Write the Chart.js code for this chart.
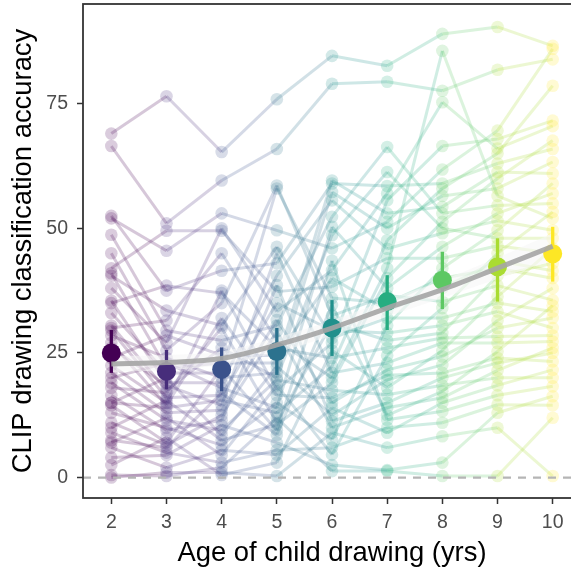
<!DOCTYPE html>
<html>
<head>
<meta charset="utf-8">
<script src="https://cdn.jsdelivr.net/npm/chart.js@4.4.0/dist/chart.umd.min.js"></script>
<style>
  html, body { margin: 0; padding: 0; background: #fff; overflow: hidden; }
</style>
</head>
<body>
<!-- the panel runs a little past the right edge of the window, as in the reference -->
<canvas id="chart" width="581" height="572"></canvas>
<script>
const ages = [2, 3, 4, 5, 6, 7, 8, 9, 10];
const ageColors = ['#440154', '#472D7B', '#3B528B', '#2C728E', '#21908C', '#27AD81', '#5DC863', '#AADC32', '#FDE725'];
const xTicks = [2, 3, 4, 5, 6, 7, 8, 9, 10];
const yTicks = [0, 25, 50, 75];

// accuracy of each drawing category at each age, highest first
const acc2 = [69, 66.5, 52.5, 52, 48.7, 45, 42, 41, 40.5, 38, 35.5, 35, 33, 30.5, 30, 29.5, 28.5, 27, 26, 24, 22.5, 21, 20, 19, 18, 16.5, 15, 15, 14.5, 13, 11, 10, 9, 7.5, 7, 6, 4, 2.5, 0.5, 0];
const acc3 = [76.5, 51, 49.5, 45.5, 38.5, 37.5, 33.5, 31.5, 29.5, 28.5, 27, 25.5, 24, 23, 22, 21, 20, 19, 18.5, 17.5, 17, 16, 15.5, 15, 14.5, 14, 13, 12, 11.5, 10, 9.5, 8, 7, 6.5, 6, 5, 4.5, 2, 1, 0.3];
const acc4 = [65.3, 59.6, 53, 50, 49.5, 45, 41.5, 37.5, 37, 35, 32, 30.5, 30, 27.5, 26, 24.5, 23, 22, 21, 20, 19, 18, 17, 16.5, 15.5, 14.5, 13.5, 12.5, 11.5, 10.5, 9.5, 8.5, 7.5, 6.5, 5.5, 4.5, 3, 2, 1, 0.5];
const acc5 = [75.9, 65.9, 58.6, 58, 49.6, 46.3, 45, 43, 40.5, 38.6, 37.3, 35, 33.3, 31.6, 30.5, 29.3, 27.5, 26, 24.5, 23, 22.3, 21, 20, 19.6, 18.5, 17.6, 16.5, 15, 14, 13, 12, 11, 10.6, 9.5, 8.6, 7, 5.5, 4.6, 3, 0.3];
const acc6 = [84.6, 79, 59.6, 59, 57.3, 55.6, 52.3, 50.3, 48.6, 46, 43.5, 41.6, 40, 38.3, 36, 34.6, 32.5, 31, 29.5, 28, 27, 25.5, 24, 22.3, 21, 20, 19, 17.5, 16, 15, 14, 12.5, 11.3, 10, 9, 7.6, 6, 4.6, 2.5, 1.3];
const acc7 = [82.6, 79.4, 66.3, 61.3, 58.5, 57, 55.6, 53, 51.3, 50, 47.6, 45.9, 44, 42, 40, 38, 36.5, 35, 33.5, 32, 30.5, 29, 27.5, 26, 24.5, 23, 21.6, 20.5, 19.6, 18, 16.6, 15, 14, 12.5, 11.6, 10, 9, 6, 1.5, 1.3];
const acc8 = [89, 85.6, 77.6, 75.3, 66.5, 61.8, 59, 58, 56.5, 54.3, 53, 51.3, 50, 49, 46.3, 44, 42, 40, 38, 35.3, 34, 32, 30.5, 29, 28, 27, 25.5, 24.3, 22.6, 21, 20, 18.5, 17.3, 16, 15, 13.3, 11, 8.3, 3, 0.3];
const acc9 = [90.4, 81.8, 69.6, 67.9, 66, 65, 63, 61.3, 60, 58, 56.5, 54.6, 53, 51.5, 49.6, 48, 46.5, 45, 43.5, 42, 40.5, 38.5, 36.3, 35, 33.3, 31.5, 30, 28.3, 27, 25.3, 24, 23, 21.5, 20, 18.5, 16.5, 14.6, 13, 10, 0.3];
const acc10 = [86.6, 86, 83.9, 78.6, 71.6, 70.5, 67.6, 65.9, 63.3, 61, 59, 57, 55, 53.3, 52, 49.6, 48, 46, 45, 43, 41.5, 40, 38, 35.6, 34.5, 33.3, 32, 30, 28.5, 27.3, 26, 25, 23.3, 21.6, 20, 18.3, 16.3, 14.5, 12, 0.3];

// which category holds each of those values (same order as the accN arrays)
const cats2 = [0, 1, 2, 3, 4, 5, 6, 7, 8, 9, 10, 11, 12, 13, 14, 15, 16, 17, 18, 19, 20, 21, 22, 23, 24, 25, 26, 27, 28, 29, 30, 31, 32, 33, 34, 35, 36, 37, 38, 39];
const cats3 = [0, 1, 6, 3, 11, 2, 8, 14, 4, 19, 9, 5, 16, 22, 7, 12, 27, 10, 18, 13, 24, 15, 31, 20, 17, 26, 21, 34, 23, 29, 25, 37, 28, 30, 33, 32, 36, 35, 39, 38];
const cats4 = [0, 1, 3, 9, 6, 14, 2, 20, 11, 5, 17, 8, 24, 4, 13, 19, 7, 28, 12, 16, 10, 22, 33, 15, 26, 18, 21, 30, 25, 36, 23, 27, 31, 29, 35, 34, 32, 38, 39, 37];
const cats5 = [0, 1, 5, 12, 3, 8, 18, 2, 10, 25, 6, 15, 9, 21, 4, 30, 14, 11, 19, 7, 27, 16, 13, 23, 34, 20, 17, 29, 22, 26, 38, 24, 31, 28, 33, 36, 32, 35, 37, 39];
const cats6 = [0, 1, 7, 2, 16, 10, 4, 22, 13, 3, 28, 9, 19, 6, 12, 33, 5, 24, 15, 8, 20, 37, 11, 26, 18, 14, 31, 23, 17, 21, 35, 27, 25, 30, 39, 29, 32, 34, 36, 38];
const cats7 = [0, 1, 4, 13, 2, 9, 20, 7, 3, 16, 26, 10, 6, 14, 31, 22, 5, 12, 19, 8, 29, 15, 24, 11, 34, 18, 21, 17, 27, 37, 23, 25, 30, 33, 28, 32, 35, 39, 36, 38];
const cats8 = [0, 14, 1, 9, 20, 3, 2, 26, 16, 7, 4, 31, 13, 10, 22, 6, 29, 12, 19, 5, 34, 8, 15, 24, 11, 18, 37, 21, 27, 17, 25, 23, 33, 30, 35, 28, 32, 39, 36, 38];
const cats9 = [0, 1, 3, 20, 9, 26, 2, 7, 31, 16, 14, 4, 22, 10, 29, 13, 6, 34, 19, 12, 24, 5, 37, 8, 15, 27, 21, 11, 18, 33, 17, 25, 30, 23, 35, 28, 32, 36, 39, 38];
const cats10 = [0, 3, 1, 26, 20, 9, 31, 2, 16, 7, 29, 22, 4, 34, 14, 10, 13, 37, 6, 24, 19, 12, 27, 5, 33, 8, 21, 15, 11, 18, 30, 25, 17, 35, 23, 28, 36, 32, 38, 39];

// mean per age with 95% CI, and the smooth fit
const meanAcc = [25.0, 21.3, 21.7, 25.3, 30.0, 35.3, 39.6, 42.3, 44.9];
const ciLow = [21.0, 17.7, 17.3, 20.6, 24.4, 29.6, 33.8, 35.3, 39.3];
const ciHigh = [29.6, 25.6, 26.1, 30.0, 35.6, 40.6, 45.3, 48.0, 50.3];
const smoothFit = [22.8, 23.1, 23.9, 26.6, 30.0, 34.0, 37.7, 42.0, 46.4];
const smoothLow = [21.2, 21.6, 22.6, 25.1, 28.5, 32.3, 36.0, 39.9, 43.6];
const smoothHigh = [24.4, 24.6, 25.3, 28.1, 31.5, 35.6, 39.6, 44.1, 49.0];

const X_MIN = 1.487, X_MAX = 10.513;

function fade(hex, a) {
  const n = parseInt(hex.slice(1), 16);
  return `rgba(${n >> 16}, ${(n >> 8) & 255}, ${n & 255}, ${a})`;
}
const colorOf = age => ageColors[ages.indexOf(age)];

const accByAge = [acc2, acc3, acc4, acc5, acc6, acc7, acc8, acc9, acc10];
const catsByAge = [cats2, cats3, cats4, cats5, cats6, cats7, cats8, cats9, cats10];

// one line per category
const catLines = [];
for (let c = 0; c < cats2.length; c++) {
  const pts = ages.map((a, i) => ({ x: a, y: accByAge[i][catsByAge[i].indexOf(c)] }));
  catLines.push({
    type: 'line',
    data: pts,
    order: 6,
    borderWidth: 3,
    pointRadius: 0,
    segment: { borderColor: ctx => fade(colorOf(ctx.p0.parsed.x), 0.22) }
  });
}

// all the small points in one layer above the lines
const smallPts = [];
const smallCols = [];
ages.forEach((a, i) => {
  accByAge[i].forEach(v => {
    smallPts.push({ x: a, y: v });
    smallCols.push(fade(ageColors[i], 0.2));
  });
});

const errBars = ages.map((a, i) => ({
  type: 'line',
  data: [{ x: a, y: ciLow[i] }, { x: a, y: ciHigh[i] }],
  order: 2,
  borderColor: ageColors[i],
  borderWidth: 3.3,
  pointRadius: 0
}));

const datasets = [
  {
    type: 'line', order: 0,
    data: ages.map((a, i) => ({ x: a, y: smoothFit[i] })),
    borderColor: 'rgba(165,165,165,0.9)', borderWidth: 5,
    pointRadius: 0, cubicInterpolationMode: 'monotone'
  },
  {
    type: 'scatter', order: 1,
    data: ages.map((a, i) => ({ x: a, y: meanAcc[i] })),
    backgroundColor: ageColors, borderWidth: 0, pointRadius: 9.5
  },
  ...errBars,
  {
    type: 'line', order: 3,
    data: ages.map((a, i) => ({ x: a, y: smoothLow[i] })),
    borderWidth: 0, pointRadius: 0, cubicInterpolationMode: 'monotone', fill: false
  },
  {
    type: 'line', order: 3,
    data: ages.map((a, i) => ({ x: a, y: smoothHigh[i] })),
    borderWidth: 0, pointRadius: 0, cubicInterpolationMode: 'monotone',
    fill: '-1', backgroundColor: 'rgba(246,246,246,0.6)'
  },
  {
    type: 'line', order: 4,
    data: [{ x: X_MIN, y: 0 }, { x: X_MAX, y: 0 }],
    borderColor: '#b5b5b5', borderWidth: 2.2, borderDash: [8, 7], pointRadius: 0
  },
  {
    type: 'scatter', order: 5,
    data: smallPts, backgroundColor: smallCols, borderWidth: 0, pointRadius: 6.3
  },
  ...catLines
];

const framePlugin = {
  id: 'frame',
  afterDatasetsDraw(chart) {
    const { ctx, chartArea: a } = chart;
    ctx.save();
    ctx.strokeStyle = '#333333';
    ctx.lineWidth = 1.8;
    ctx.strokeRect(a.left, a.top, a.right - a.left, a.bottom - a.top);
    ctx.restore();
  }
};

// no extra room for half tick labels at the ends of the axes
const noEndPad = s => { s.paddingTop = 0; s.paddingBottom = 0; s.paddingLeft = 0; s.paddingRight = 0; };

Chart.defaults.font.family = "'Liberation Sans', Arial, sans-serif";

new Chart(document.getElementById('chart'), {
  data: { datasets },
  plugins: [framePlugin],
  options: {
    responsive: false,
    animation: false,
    events: [],
    layout: { autoPadding: false, padding: { top: 4, right: 0, left: 0, bottom: 0 } },
    plugins: { legend: { display: false }, tooltip: { enabled: false } },
    scales: {
      x: {
        type: 'linear', min: X_MIN, max: X_MAX,
        afterBuildTicks: s => { s.ticks = xTicks.map(v => ({ value: v })); },
        afterFit: s => { s.height = 74; noEndPad(s); },
        ticks: { font: { size: 19.5 }, color: '#4d4d4d', padding: 7, autoSkip: false, maxRotation: 0 },
        grid: { drawOnChartArea: false, tickLength: 6, tickColor: '#333333', tickWidth: 1.5 },
        border: { display: false },
        title: {
          display: true, text: 'Age of child drawing (yrs)', color: '#000',
          font: { size: 27.4 }, padding: { top: 0, bottom: 2 }
        }
      },
      y: {
        type: 'linear', min: -4.1, max: 95,
        afterBuildTicks: s => { s.ticks = yTicks.map(v => ({ value: v })); },
        afterFit: s => { s.width = 83; noEndPad(s); },
        ticks: { font: { size: 19.5 }, color: '#4d4d4d', padding: 9 },
        grid: { drawOnChartArea: false, tickLength: 6, tickColor: '#333333', tickWidth: 1.5 },
        border: { display: false },
        title: {
          display: true, text: 'CLIP drawing classification accuracy', color: '#000',
          font: { size: 27.4 }, padding: { top: 7, bottom: 0 }
        }
      }
    }
  }
});
</script>
</body>
</html>
